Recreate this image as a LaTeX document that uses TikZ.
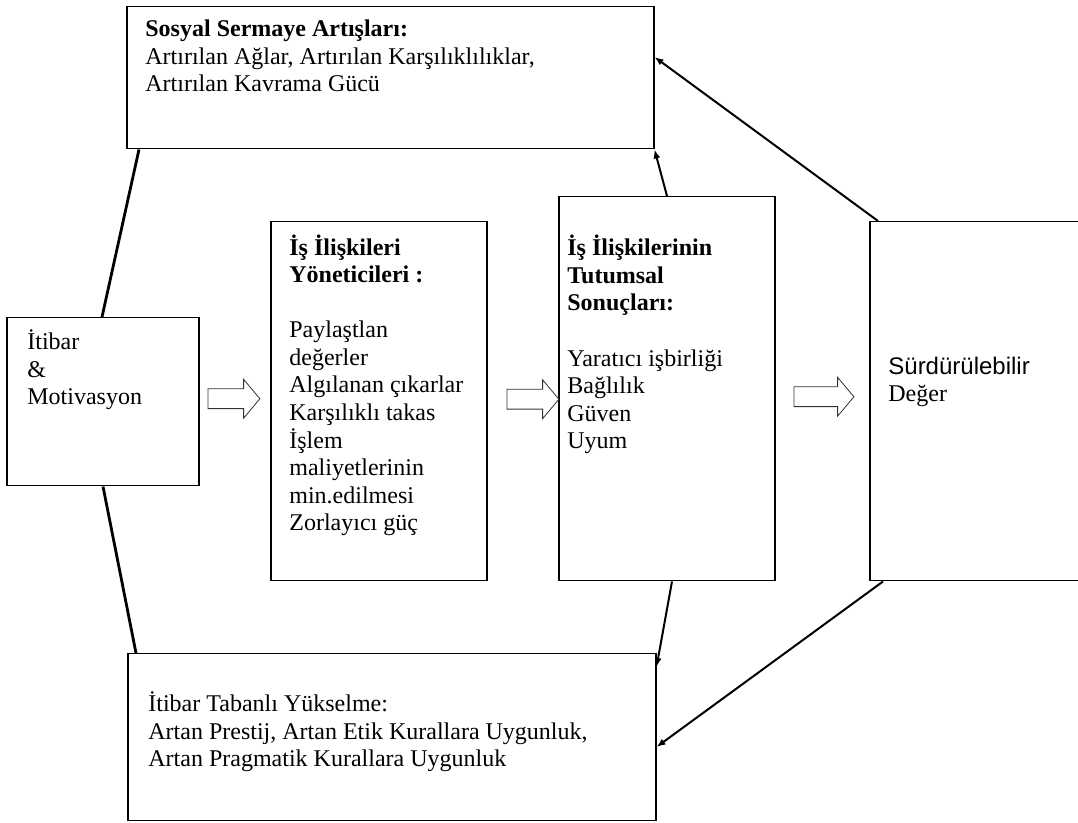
\documentclass[tikz,border=0pt]{standalone}
\usepackage{fontspec}
\setmainfont{Liberation Serif}
\newfontfamily\sansfont{Liberation Sans}
\usepackage{tikz}
\usetikzlibrary{shapes.arrows,arrows.meta,positioning,calc}

\tikzset{
  box/.style={draw=black, line width=0.75pt, inner sep=0pt, anchor=north west},
  % multi-line texts: anchor is the baseline of the last line
  txt/.style={inner sep=0pt, align=left, anchor=base west,
              font=\fontsize{12}{13.8}\selectfont},
  link/.style={draw=black, line width=1pt},
  flow/.style={single arrow, draw=black!80, line width=0.4pt, inner xsep=0pt,
               inner ysep=4.75pt, text height=0pt, text depth=0pt,
               single arrow head extend=4.75pt, single arrow tip angle=100,
               anchor=tail},
  tip/.style={-{Latex[length=4.5pt,width=3.5pt]}}
}

\begin{document}
\begin{tikzpicture}[x=0.5pt, y=-0.5pt]

\clip (0,0) rectangle (1078,823);

% Boxes
\node[box, minimum width=263.5pt, minimum height=71pt]   (sosyal)   at (126,6)   {};
\node[box, minimum width=96pt,    minimum height=84pt]   (itibar)   at (6,317)   {};
\node[box, minimum width=108pt,   minimum height=179.5pt] (yonetici) at (270,221) {};
\node[box, minimum width=108pt,   minimum height=192pt]  (sonuc)    at (558,196) {};
\node[box, minimum width=120pt,   minimum height=179.5pt] (deger)    at (869,221) {};
\node[box, minimum width=264pt,   minimum height=83.5pt] (yukselme) at (127,653) {};

% Texts
\node[txt] (sosyalT) at (145,92)
      {\textbf{Sosyal Sermaye Artışları:}\\Artırılan Ağlar, Artırılan Karşılıklılıklar,\\Artırılan Kavrama Gücü};
\node[txt] (itibarT) at (27,405) {İtibar\\\&\\Motivasyon};
\node[txt] (yoneticiT) at (289,531)
      {\textbf{İş İlişkileri}\\\textbf{Yöneticileri :}\\[13.8pt]Paylaştlan\\değerler\\Algılanan çıkarlar\\Karşılıklı takas\\İşlem\\maliyetlerinin\\min.edilmesi\\Zorlayıcı güç};
\node[txt] (sonucT) at (567,449)
      {\textbf{İş İlişkilerinin}\\\textbf{Tutumsal}\\\textbf{Sonuçları:}\\[13.8pt]Yaratıcı işbirliği\\Bağlılık\\Güven\\Uyum};
\node[txt] (degerT) at (888,402) {{\sansfont Sürdürülebilir}\\Değer};
\node[txt] (yukselmeT) at (148,767)
      {İtibar Tabanlı Yükselme:\\Artan Prestij, Artan Etik Kurallara Uygunluk,\\Artan Pragmatik Kurallara Uygunluk};

% Block arrows
\node[flow, minimum height=26pt] (f1) at ([shift={(8,-3)}]itibar.east) {};
\node[flow, minimum height=26pt] (f2) at ([shift={(19,-2)}]yonetici.east) {};
\node[flow, minimum height=30pt] (f3) at ([shift={(18,8)}]sonuc.east) {};

% Links
\draw[link, line width=1.4pt] ([shift={(96,0)}]itibar.north west) -- ([shift={(13,0)}]sosyal.south west);
\draw[link, line width=1.4pt] ([shift={(97,0)}]itibar.south west) -- ([shift={(9,0)}]yukselme.north west);
\draw[link, tip] ([shift={(109,0)}]sonuc.north west) -- (sosyal.south east);
\draw[link, tip] ([shift={(9,0)}]deger.north west) -- ([shift={(0,51)}]sosyal.north east);
\draw[link, tip] ([shift={(114,0)}]sonuc.south west) -- ([shift={(0,14)}]yukselme.north east);
\draw[link, tip] ([shift={(14,0)}]deger.south west) -- ([shift={(0,94)}]yukselme.north east);

\end{tikzpicture}
\end{document}
